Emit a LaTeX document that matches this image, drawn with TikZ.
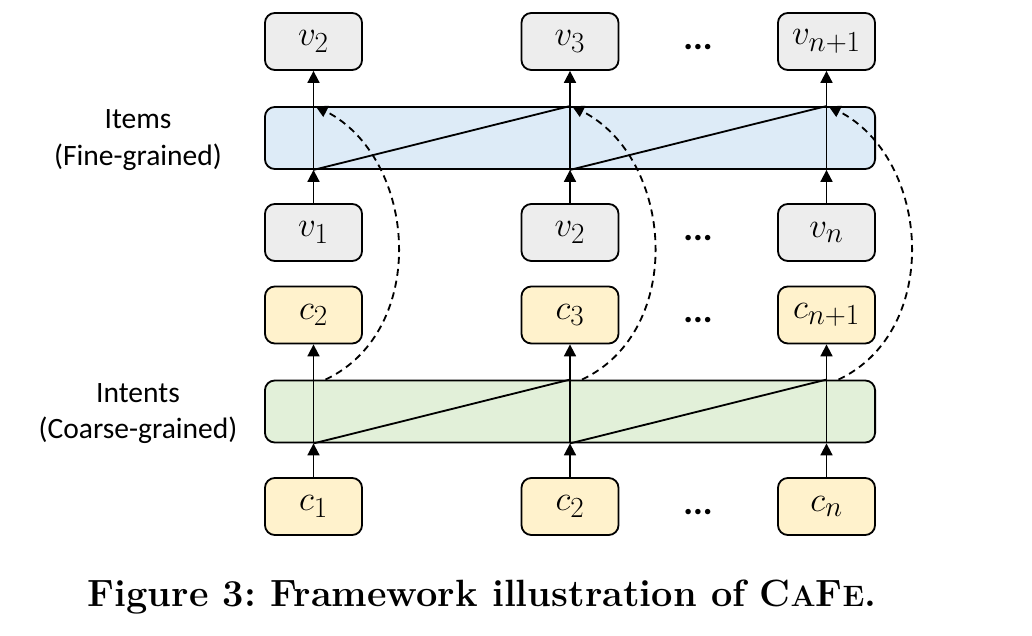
\documentclass[tikz,border=0pt]{standalone}
\usepackage[no-math]{fontspec}
\setsansfont{Carlito}
\usetikzlibrary{arrows.meta}
\definecolor{dVCol}{rgb}{0.93, 0.93, 0.93}
\definecolor{dCCol}{rgb}{1, 0.95, 0.8}
\definecolor{dICol}{rgb}{0.867, 0.922, 0.969}
\definecolor{dGCol}{rgb}{0.886, 0.941, 0.851}

\begin{document}
\frenchspacing
\begin{tikzpicture}[x=0.025cm, y=0.025cm,
    tok/.style={draw, line width=1.3pt, rounded corners=7pt, inner sep=0pt,
      minimum width=2.425cm, minimum height=1.425cm, font=\fontsize{32}{32}\selectfont},
    vtok/.style={tok, fill=dVCol},
    ctok/.style={tok, fill=dCCol},
    layer/.style={draw, line width=1.3pt, rounded corners=7pt, inner sep=0pt,
      minimum width=15.25cm, minimum height=1.55cm},
    side/.style={align=center, font=\sffamily\fontsize{21}{26}\selectfont},
    more/.style={font=\sffamily\fontsize{26}{26}\selectfont\bfseries},
    flow/.style={-{Triangle[width=8.5pt,length=8.5pt]}, line width=1.3pt},
    jump/.style={flow, dash pattern=on 5pt off 3.5pt}]
%      \draw [help lines] (0, 0) grid (1032, 636);
      \useasboundingbox (0,0) rectangle (1032,636);
      \node [layer, fill=dICol] (items) at (570,498) {};
      \node [layer, fill=dGCol] (intents) at (570,224.5) {};
      \node [side] (itemlab) at (138,496) {Items\\(Fine-grained)};
      \node [side] (intlab) at (138,222.5) {Intents\\(Coarse-grained)};
      \foreach \i/\x/\vt/\vb/\ct/\cb in {1/313.5/v_2/v_1/c_2/c_1,
                                          2/570/v_3/v_2/c_3/c_2,
                                          3/826.5/v_{n+1}/v_n/c_{n+1}/c_n} {
        \node [vtok] (vt\i) at (\x,594.5) {$\vt$};
        \node [vtok] (vb\i) at (\x,403.5) {$\vb$};
        \node [ctok] (ct\i) at (\x,321) {$\ct$};
        \node [ctok] (cb\i) at (\x,129.5) {$\cb$};
        %% where the columns cross the two layers
        \coordinate (it\i) at (vt\i |- items.north);
        \coordinate (ib\i) at (vt\i |- items.south);
        \coordinate (gt\i) at (vt\i |- intents.north);
        \coordinate (gb\i) at (vt\i |- intents.south);
        \draw [flow] (vb\i) -- (ib\i);
        \draw [flow] (ib\i) -- (vt\i);
        \draw [flow] (cb\i) -- (gb\i);
        \draw [flow] (gb\i) -- (ct\i);
        %% intent of step i guides the item of step i
        \draw [jump] ([shift={(12,0)}]gt\i) .. controls +(104,49) and +(102,-52)
          .. ([shift={(2,0)}]it\i);
      }
      \foreach \i/\j in {1/2,2/3} {
        \draw [line width=1.3pt] (ib\i) -- (it\j);
        \draw [line width=1.3pt] (gb\i) -- (gt\j);
      }
      \foreach \y/\r in {589/a,398/b,316/c,124/d} {
        \node [more] (dots\r) at (698,\y) {...};
      }
      \node [anchor=base, font=\fontsize{27}{27}\selectfont\bfseries] (caption)
        at (482,29) {Figure 3: Framework illustration of C{\fontsize{21}{21}\selectfont A}F{\fontsize{21}{21}\selectfont E}.};
    \end{tikzpicture}
\end{document}
